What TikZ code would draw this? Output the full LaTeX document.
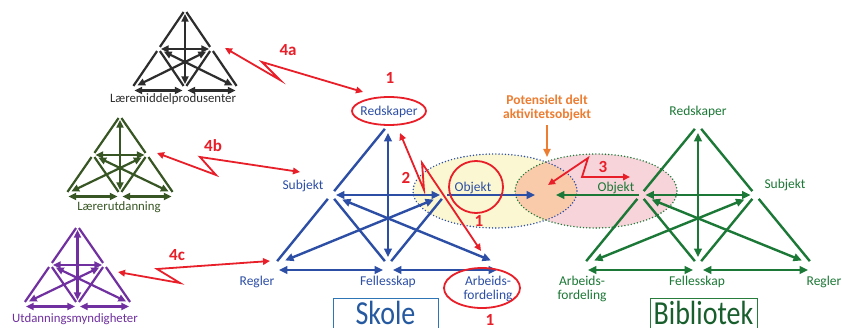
\documentclass[tikz,border=0pt]{standalone}
\usepackage{fontspec}
\setmainfont{Carlito}
\usetikzlibrary{arrows.meta}
\definecolor{skblue}{RGB}{44,78,165}
\definecolor{bgreen}{RGB}{28,120,54}
\definecolor{tgray}{RGB}{45,45,45}
\definecolor{tgreen}{RGB}{55,86,35}
\definecolor{tpurple}{RGB}{112,48,160}
\definecolor{rred}{RGB}{232,30,40}
\definecolor{oorange}{RGB}{237,125,49}
\definecolor{yfill}{RGB}{250,247,210}
\definecolor{pfill}{RGB}{247,211,218}
\definecolor{ofill}{RGB}{249,203,170}
\definecolor{skbox}{RGB}{46,117,182}
\definecolor{sktext}{RGB}{38,90,160}
\definecolor{bbox}{RGB}{40,125,60}
\definecolor{btext}{RGB}{25,95,45}
\tikzset{
 tip2/.style={{Triangle[length=0pt 3.5,width=0pt 3.2]}-{Triangle[length=0pt 3.5,width=0pt 3.2]}},
 redarr/.style={draw=rred, line width=1.8pt, line join=miter, {Triangle[length=7pt,width=6.5pt]}-{Triangle[length=7pt,width=6.5pt]}},
 rnum/.style={text=rred, font=\fontsize{17}{17}\selectfont\bfseries, inner sep=0pt},
 lab/.style={font=\fontsize{13.5}{14}\selectfont, align=center, inner sep=0pt},
 smalllab/.style={font=\fontsize{12.8}{13}\selectfont, inner sep=0pt},
 bigword/.style={font=\fontsize{28}{28}\selectfont, inner sep=0pt, anchor=base},
 dotline/.style={line width=1.6pt, dash pattern=on 0pt off 3.2pt, line cap=round},
 redring/.style={draw=rred, line width=1.8pt},
}
% #1 prefix, #2 apex x, #3 apex y, #4 half width, #5 height, #6 colour, #7 line width, #8 gap, #9 right side (1/0)
\newcommand{\acttri}[9]{%
 \coordinate (#1T) at (#2,#3);
 \coordinate (#1L) at ({#2-#4/2},{#3+#5/2});
 \coordinate (#1M) at ({#2+#4/2},{#3+#5/2});
 \coordinate (#1BL) at ({#2-#4},{#3+#5});
 \coordinate (#1BM) at (#2,{#3+#5});
 \coordinate (#1BR) at ({#2+#4},{#3+#5});
 \pgfmathsetmacro\dgap{2.4*#8}%
 \pgfmathsetmacro\vgap{1.6*#8}%
 \begin{scope}[draw=#6, line width=#7, shorten <=#8pt, shorten >=#8pt]
  \draw (#1T) -- (#1L);
  \draw (#1L) -- (#1BL);
  \ifnum#9=1 \draw (#1T) -- (#1M); \draw (#1M) -- (#1BR); \fi
  \draw (#1L) -- (#1BM);
  \draw (#1M) -- (#1BM);
  \draw[tip2, shorten <=\vgap pt, shorten >=\vgap pt] (#1T) -- (#1BM);
  \draw[tip2] (#1L) -- (#1M);
  \draw[tip2, shorten <=\dgap pt, shorten >=\dgap pt] (#1BL) -- (#1M);
  \draw[tip2, shorten <=\dgap pt, shorten >=\dgap pt] (#1L) -- (#1BR);
  \draw[tip2] ([yshift=-#8pt]#1BL) -- ([yshift=-#8pt]#1BM);
  \draw[tip2] ([yshift=-#8pt]#1BM) -- ([yshift=-#8pt]#1BR);
 \end{scope}}
\begin{document}
\begin{tikzpicture}[x=1pt,y=-1pt]
\useasboundingbox[fill=white] (0,0) rectangle (842,328);
% shared object ellipses
\fill[yfill] (495,191) ellipse [x radius=82pt, y radius=37pt];
\fill[pfill] (596,191) ellipse [x radius=81pt, y radius=37pt];
\begin{scope}
 \clip (495,191) ellipse [x radius=82pt, y radius=37pt];
 \fill[ofill] (596,191) ellipse [x radius=81pt, y radius=37pt];
\end{scope}
\draw[skblue, dotline] (495,191) ellipse [x radius=82pt, y radius=37pt];
\draw[bgreen, dotline] (596,191) ellipse [x radius=81pt, y radius=37pt];

% small triangles
\acttri{ta}{185}{10}{53}{78}{tgray}{2.2pt}{2.5}{1}
\acttri{tb}{120}{116}{54}{78}{tgreen}{2.2pt}{2.5}{1}
\acttri{tc}{77.5}{226}{54}{78}{tpurple}{2.2pt}{2.5}{1}
\node[smalllab, text=tgray] (talab) at (173,99) {Læremiddelprodusenter};
\node[smalllab, text=tgreen] (tblab) at (119,207) {Lærerutdanning};
\node[smalllab, text=tpurple] (tclab) at (75,319) {Utdanningsmyndigheter};

% Skole
\acttri{sk}{388}{125}{114}{140}{skblue}{2.4pt}{5}{0}
\coordinate (skshared) at (535,195);
\draw[skblue, line width=2.4pt, -{Triangle[length=0pt 3.5,width=0pt 3.2]}, shorten <=2pt] (skM) -- (skshared);
\node[lab, text=skblue] (skTx) at (389,112) {Redskaper};
\node[lab, text=skblue] (skLx) at (303,186) {Subjekt};
\node[lab, text=skblue] (skMx) at (473,188) {Objekt};
\node[lab, text=skblue] (skBLx) at (257,282) {Regler};
\node[lab, text=skblue] (skBMx) at (388,282) {Fellesskap};
\node[lab, text=skblue] (skBRx) at (488,289) {Arbeids-\\fordeling};
\draw[skbox, line width=1pt] (333,298) rectangle (438,336);
\node[bigword, text=sktext] (skname) at (385.5,324.5) {\scalebox{1}[1.2]{Skole}};

% Bibliotek
\acttri{bi}{698}{125}{115}{140}{bgreen}{2.4pt}{5}{1}
\coordinate (bishared) at (556,195);
\draw[bgreen, line width=2.4pt, -{Triangle[length=0pt 3.5,width=0pt 3.2]}, shorten <=2pt] (biL) -- (bishared);
\node[lab, text=bgreen] (biTx) at (698,112) {Redskaper};
\node[lab, text=bgreen] (biMx) at (785,185) {Subjekt};
\node[lab, text=bgreen] (biLx) at (616,188) {Objekt};
\node[lab, text=bgreen] (biBLx) at (582,289) {Arbeids-\\fordeling};
\node[lab, text=bgreen] (biBMx) at (697,282) {Fellesskap};
\node[lab, text=bgreen] (biBRx) at (824,282) {Regler};
\draw[bbox, line width=1pt] (650,298) rectangle (757,336);
\node[bigword, text=btext] (biname) at (703.5,324.5) {\scalebox{1}[1.2]{Bibliotek}};

% orange note
\node[font=\fontsize{13.5}{14}\selectfont\bfseries, text=oorange, align=center, inner sep=0pt] (pot) at (547,108) {Potensielt delt\\aktivitetsobjekt};
\coordinate (potend) at (547,157);
\draw[oorange, line width=1.8pt, -{Triangle[length=8pt,width=7pt]}, shorten <=4pt] (pot.south) -- (potend);

% red rings
\draw[redring] (389,111) ellipse [x radius=37pt, y radius=14pt];
\draw[redring] (476,187) ellipse [x radius=27pt, y radius=26pt];
\draw[redring] (482,288) ellipse [x radius=38pt, y radius=20pt];

% red lightning arrows
\coordinate (r4aA) at (225,48); \coordinate (r4aB) at (363,92);
\draw[redarr] (r4aA) -- (280,80) -- (262,62) -- (r4aB);
\coordinate (r4bA) at (157,153); \coordinate (r4bB) at (300,172);
\draw[redarr] (r4bA) -- (216,175) -- (200,157) -- (r4bB);
\coordinate (r4cA) at (118,272); \coordinate (r4cB) at (270,261);
\draw[redarr] (r4cA) -- (180,283) -- (157,269) -- (r4cB);
\coordinate (r2A) at (400,133); \coordinate (r2B) at (481,251);
\draw[redarr] (r2A) -- (424,190) -- (422,163) -- (r2B);
\coordinate (r3A) at (548,185); \coordinate (r3B) at (630,177);
\draw[redarr] (r3A) -- (588,158) -- (582,177) -- (r3B);

% red numbers
\node[rnum] (n1a) at (390,78) {1};
\node[rnum] (n1b) at (479,221) {1};
\node[rnum] (n1c) at (490,320) {1};
\node[rnum] (n2) at (406,178) {2};
\node[rnum] (n3) at (603,167) {3};
\node[rnum] (n4a) at (288,50) {4a};
\node[rnum] (n4b) at (213,146) {4b};
\node[rnum] (n4c) at (177,255) {4c};
\end{tikzpicture}
\end{document}
